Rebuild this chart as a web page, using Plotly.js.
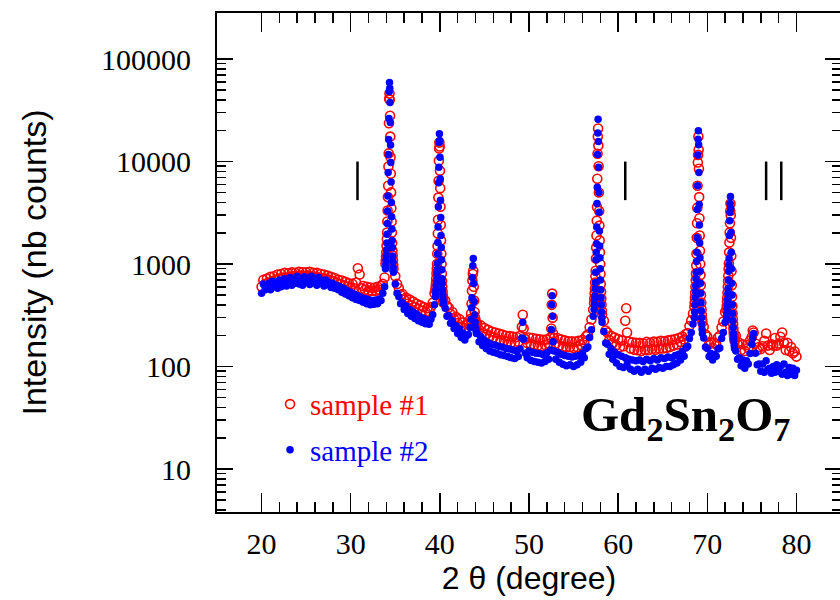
<!DOCTYPE html>
<html>
<head>
<meta charset="utf-8">
<script src="https://cdn.plot.ly/plotly-3.0.1.min.js"></script>
<style>
html,body{margin:0;padding:0;overflow:hidden;background:#fff;}
#chart{width:850px;height:600px;}
</style>
</head>
<body>
<div id="chart"></div>
<script>
// ---- Data (2θ in degrees, intensity in counts) ----
// Segment A: background 20 - 33.8
const thetaA = [20.0,20.2,20.4,20.6,20.8,21.0,21.2,21.4,21.6,21.8,
 22.0,22.2,22.4,22.6,22.8,23.0,23.2,23.4,23.6,23.8,
 24.0,24.2,24.4,24.6,24.8,25.0,25.2,25.4,25.6,25.8,
 26.0,26.2,26.4,26.6,26.8,27.0,27.2,27.4,27.6,27.8,
 28.0,28.2,28.4,28.6,28.8,29.0,29.2,29.4,29.6,29.8,
 30.0,30.2,30.4,30.6,30.8,31.0,31.2,31.4,31.6,31.8,
 32.0,32.2,32.4,32.6,32.8,33.0,33.2,33.4,33.6,33.8];
const sample1A = [600,700,640,720,660,750,680,760,700,790,
 720,800,730,820,740,810,750,830,760,820,
 760,840,770,830,760,830,770,840,760,820,
 750,820,740,800,730,790,720,770,700,750,
 680,730,660,700,640,690,620,670,600,650,
 590,640,580,660,910,790,580,610,560,600,
 550,590,545,585,550,600,560,610,640,740];
const sample2A = [520,640,560,600,650,560,680,600,640,580,
 700,600,650,720,610,680,740,620,700,650,
 760,640,700,620,750,680,720,630,760,660,
 700,620,740,650,690,610,700,630,660,590,
 650,580,620,560,600,530,580,510,550,490,
 530,470,510,450,490,440,475,425,460,410,
 450,400,440,405,445,410,455,440,520,600];

// Peak 1 (~34.35)
const thetaP1 = [33.90,33.93,33.96,33.99,34.02,34.05,34.08,34.11,34.14,34.17,34.20,34.23,34.26,34.29,34.32,34.35,34.38,34.41,34.44,34.47,34.50,34.53,34.56,34.59,34.62,34.65,34.68,34.71,34.74,34.77,34.80];
const sample1P1 = [1000,1080,1180,1300,1510,1750,2030,2600,3330,4500,5800,8950,12000,23600,41000,46000,40000,28000,17500,11000,7600,5000,3500,2600,2030,1600,1350,1210,1080,980,900];
const sample2P1 = [900,980,1080,1200,1380,1600,1950,2480,3300,4600,7800,11700,16400,26300,48200,59000,52000,37600,24000,14500,9800,6300,3980,2900,2200,1700,1450,1200,1050,920,830];

// Segment B: 35 - 39.4
const thetaB = [35.0,35.2,35.4,35.6,35.8,36.0,36.2,36.4,36.6,36.8,37.0,37.2,37.4,37.6,37.8,38.0,38.2,38.4,38.6,38.8,39.0,39.2,39.4];
const sample1B = [760,640,580,500,510,450,470,410,450,395,430,380,410,365,395,350,380,340,370,345,380,420,520];
const sample2B = [640,520,480,410,420,360,390,330,360,310,340,295,325,280,305,270,295,262,285,258,290,320,400];

// Peak 2 (~39.95)
const thetaP2 = [39.50,39.53,39.56,39.59,39.62,39.65,39.68,39.71,39.74,39.77,39.80,39.83,39.86,39.89,39.92,39.95,39.98,40.01,40.04,40.07,40.10,40.13,40.16,40.19,40.22,40.25,40.28,40.31,40.34,40.37,40.40];
const sample1P2 = [560,600,650,720,810,900,1000,1260,1500,1990,2700,4450,6500,10200,13400,15300,14000,8150,5500,3630,2400,1700,1260,1000,810,680,600,540,490,450,420];
const sample2P2 = [480,520,560,620,700,800,880,1010,1250,1620,2300,3630,6200,8800,15300,18700,16000,11000,6800,4200,2840,1900,1450,1100,880,720,645,560,500,450,410];

// Segment C: 40.6 - 43.4
const thetaC = [40.6,40.8,41.0,41.2,41.4,41.6,41.8,42.0,42.2,42.4,42.6,42.8,43.0,43.2,43.4];
const sample1C = [440,390,375,325,340,290,305,265,290,245,270,238,258,262,290];
const sample2C = [370,310,315,265,280,235,250,210,232,192,212,182,200,205,240];

// Peak 3 (~43.75)
const thetaP3 = [43.50,43.55,43.60,43.65,43.70,43.75,43.80,43.85,43.90,43.95,44.00,44.05,44.10];
const sample1P3 = [330,410,550,690,800,860,600,440,340,300,280,270,260];
const sample2P3 = [290,375,470,740,960,1130,645,430,320,270,240,225,210];

// Segment D: 44.2 - 57.2
const thetaD = [44.2,44.4,44.6,44.8,45.0,45.2,45.4,45.6,45.8,46.0,
 46.2,46.4,46.6,46.8,47.0,47.2,47.4,47.6,47.8,48.0,
 48.2,48.4,48.6,48.8,49.0,49.2,49.3,49.4,49.6,49.8,
 50.0,50.2,50.4,50.6,50.8,51.0,51.2,51.4,51.6,51.8,
 52.0,52.2,52.4,52.5,52.55,52.6,52.65,52.7,52.8,53.0,
 53.2,53.4,53.6,53.8,54.0,54.2,54.4,54.6,54.8,55.0,
 55.2,55.4,55.6,55.8,56.0,56.2,56.4,56.6,56.8,57.0,
 57.2];
const sample1D = [262,228,252,215,238,205,228,198,220,192,
 215,185,210,180,205,178,200,175,198,172,
 196,170,194,175,200,245,320,235,185,170,
 192,165,190,162,186,160,184,158,182,162,
 184,166,192,235,400,515,300,210,190,168,
 190,160,184,156,180,154,176,155,176,152,
 175,155,178,162,182,172,198,205,242,288,
 360];
const sample2D = [210,175,195,160,182,150,172,142,165,138,
 162,135,158,130,155,128,150,125,148,122,
 145,120,142,125,148,190,270,185,135,122,
 142,115,138,112,135,110,134,108,130,112,
 136,118,145,230,400,490,310,175,142,118,
 138,110,132,105,128,102,126,104,124,100,
 126,104,128,110,135,122,150,155,192,228,
 310];

// Peak 4 (~57.75)
const thetaP4 = [57.30,57.33,57.36,57.39,57.42,57.45,57.48,57.51,57.54,57.57,57.60,57.63,57.66,57.69,57.72,57.75,57.78,57.81,57.84,57.87,57.90,57.93,57.96,57.99,58.02,58.05,58.08,58.11,58.14,58.17,58.20];
const sample1P4 = [420,460,515,575,660,760,860,1130,1450,1900,2650,3600,6800,11900,17500,21000,14300,9000,5000,3300,2370,1700,1300,1000,800,640,540,460,400,350,320];
const sample2P4 = [360,400,450,490,575,660,830,1100,1300,1580,2300,3900,5600,11700,19000,25800,15700,8800,5000,3200,2100,1500,1150,900,700,560,470,400,340,300,270];

// Segment E: 58.4 - 68.4
const thetaE = [58.4,58.6,58.8,59.0,59.2,59.4,59.6,59.8,60.0,60.2,
 60.4,60.6,60.8,60.9,61.0,61.2,61.4,61.6,61.8,62.0,
 62.2,62.4,62.6,62.8,63.0,63.2,63.4,63.6,63.8,64.0,
 64.2,64.4,64.6,64.8,65.0,65.2,65.4,65.6,65.8,66.0,
 66.2,66.4,66.6,66.8,67.0,67.2,67.4,67.6,67.8,68.0,
 68.2,68.4];
const sample1E = [280,225,215,182,200,170,192,162,185,155,
 180,158,280,370,215,175,150,172,146,170,
 144,170,142,168,146,174,145,170,148,175,
 146,174,150,178,150,176,152,180,155,182,
 160,185,164,190,174,196,184,208,212,248,
 282,330];
const sample2E = [220,170,165,132,150,118,138,108,130,100,
 126,98,122,120,104,118,94,116,90,114,
 94,116,88,112,94,118,90,114,96,120,
 94,116,98,122,96,120,100,124,100,122,
 104,128,108,132,116,140,126,152,158,188,
 215,260];

// Peak 5 (~69.0)
const thetaP5 = [68.55,68.58,68.61,68.64,68.67,68.70,68.73,68.76,68.79,68.82,68.85,68.88,68.91,68.94,68.97,69.00,69.03,69.06,69.09,69.12,69.15,69.18,69.21,69.24,69.27,69.30,69.33,69.36,69.39,69.42,69.45];
const sample1P5 = [380,420,470,525,600,700,810,970,1260,1800,2500,3550,5800,9800,11600,17500,13000,8500,4500,2800,1900,1350,1000,780,620,500,420,360,320,290,270];
const sample2P5 = [300,340,400,470,540,615,720,830,1060,1300,1800,3400,5800,11600,16500,20000,14600,7800,3800,2400,1600,1150,850,650,520,420,350,300,260,230,210];

// Segment F: 69.6 - 72.0
const thetaF = [69.6,69.8,70.0,70.2,70.4,70.6,70.8,71.0,71.2,71.4,71.6,71.8,72.0];
const sample1F = [245,205,196,165,172,152,170,164,192,200,240,275,340];
const sample2F = [190,155,150,125,134,116,130,126,148,152,188,215,270];

// Peak 6 (~72.6)
const thetaP6 = [72.15,72.18,72.21,72.24,72.27,72.30,72.33,72.36,72.39,72.42,72.45,72.48,72.51,72.54,72.57,72.60,72.63,72.66,72.69,72.72,72.75,72.78,72.81,72.84,72.87,72.90,72.93,72.96,72.99,73.02,73.05];
const sample1P6 = [360,390,430,470,525,600,680,770,900,1010,1300,1620,2030,2500,3300,3900,3000,1800,1200,850,620,480,390,330,290,260,235,215,200,190,180];
const sample2P6 = [300,330,360,400,450,515,575,700,850,990,1130,1900,2650,3200,3900,4560,3500,2030,1300,900,650,500,400,330,280,240,210,190,175,160,150];

// Segment G: 73.2 - 80
const thetaG = [73.2,73.4,73.6,73.8,74.0,74.2,74.4,74.6,74.8,75.0,75.1,75.2,75.4,75.6,75.8,76.0,76.2,76.4,76.6,76.8,77.0,77.2,77.4,77.6,77.8,78.0,78.2,78.4,78.6,78.8,79.0,79.2,79.4,79.6,79.8,80.0];
const sample1G = [200,165,170,145,165,142,162,152,180,195,225,215,168,145,155,148,158,178,210,160,145,165,160,190,160,168,195,215,170,145,170,142,155,135,140,125];
const sample2G = [142,118,122,102,116,96,114,106,134,165,190,210,135,104,106,90,106,88,114,94,96,86,100,88,104,90,100,84,106,88,82,98,84,96,82,92];

// Reflection markers (vertical bars)
const braggPositions = [30.76, 60.8, 76.6, 78.3];
const braggBarRange = [4200, 10000];

// Axis tick labels
const xTickVals = [20, 30, 40, 50, 60, 70, 80];
const xTickLabels = ['20', '30', '40', '50', '60', '70', '80'];
const yTickVals = [10, 100, 1000, 10000, 100000];
const yTickLabels = ['10', '100', '1000', '10000', '100000'];

const seriesNames = ['sample #1', 'sample #2'];
const compoundLabel = 'Gd<sub>2</sub>Sn<sub>2</sub>O<sub>7</sub>';

// ---- assemble ----
const segs = [
  ['A', thetaA, sample1A, sample2A], ['P1', thetaP1, sample1P1, sample2P1],
  ['B', thetaB, sample1B, sample2B], ['P2', thetaP2, sample1P2, sample2P2],
  ['C', thetaC, sample1C, sample2C], ['P3', thetaP3, sample1P3, sample2P3],
  ['D', thetaD, sample1D, sample2D], ['P4', thetaP4, sample1P4, sample2P4],
  ['E', thetaE, sample1E, sample2E], ['P5', thetaP5, sample1P5, sample2P5],
  ['F', thetaF, sample1F, sample2F], ['P6', thetaP6, sample1P6, sample2P6],
  ['G', thetaG, sample1G, sample2G]
];
let twoTheta = [], s1 = [], s2 = [];
segs.forEach(([n, t, a, b]) => {
  if (t.length !== a.length || t.length !== b.length) throw new Error('length mismatch in ' + n + ': ' + t.length + ' ' + a.length + ' ' + b.length);
  twoTheta = twoTheta.concat(t); s1 = s1.concat(a); s2 = s2.concat(b);
});

const braggX = [], braggY = [];
braggPositions.forEach(p => { braggX.push(p, p, null); braggY.push(braggBarRange[0], braggBarRange[1], null); });

const xMinor = [];
for (let v = xTickVals[0]; v < xTickVals[xTickVals.length - 1]; v += 2) { if (v % 10 !== 0) xMinor.push(v); }
const yMinor = [];
[1, 10, 100, 1000, 10000].forEach(d => { for (let m = 2; m <= 9; m++) yMinor.push(m * d); });

const traces = [
  {
    x: twoTheta, y: s1, type: 'scatter', mode: 'markers',
    name: '<span style="color:#ff0000">' + seriesNames[0] + '</span>', legendgroup: 'g1',
    marker: { symbol: 'circle-open', size: 9, color: '#ff0000', line: { width: 1.6, color: '#ff0000' } },
    hoverinfo: 'skip'
  },
  {
    x: twoTheta, y: s2, type: 'scatter', mode: 'markers',
    name: '<span style="color:#0000ff">' + seriesNames[1] + '</span>', legendgroup: 'g2',
    marker: { symbol: 'circle', size: 7.5, color: '#0000ff' },
    hoverinfo: 'skip'
  },
  {
    x: braggX, y: braggY, type: 'scatter', mode: 'lines',
    line: { color: '#000000', width: 2.5 }, showlegend: false, hoverinfo: 'skip'
  }
];

const tickFont = { family: 'Liberation Serif, Times New Roman, serif', size: 30, color: '#000' };

const layout = {
  width: 850, height: 600,
  margin: { l: 217, r: 9, t: 13, b: 88 },
  paper_bgcolor: '#fff', plot_bgcolor: '#fff',
  showlegend: true,
  legend: {
    x: 0.085, y: 0.267, xanchor: 'left', yanchor: 'top',
    font: { family: 'Liberation Serif, Times New Roman, serif', size: 29, color: '#000' },
    bgcolor: 'rgba(0,0,0,0)', tracegroupgap: 5, itemsizing: 'trace'
  },
  xaxis: {
    range: [15, 85], showgrid: false, zeroline: false,
    showline: true, linecolor: '#000', linewidth: 2, mirror: 'allticks',
    ticks: 'inside', ticklen: 19, tickwidth: 1.5, tickcolor: '#000',
    tickmode: 'array', tickvals: xTickVals, ticktext: xTickLabels,
    tickfont: tickFont, ticklabelstandoff: 4,
    minor: { tickmode: 'array', tickvals: xMinor, ticks: 'inside', ticklen: 10, tickwidth: 1.5, tickcolor: '#000' },
    title: { text: '2 θ (degree)', font: { family: 'Liberation Sans, Arial, sans-serif', size: 32, color: '#000' }, standoff: 6 }
  },
  yaxis: {
    type: 'log', range: [0.581, 5.449], showgrid: false, zeroline: false,
    showline: true, linecolor: '#000', linewidth: 2, mirror: 'allticks',
    ticks: 'inside', ticklen: 16, tickwidth: 1.5, tickcolor: '#000',
    tickmode: 'array', tickvals: yTickVals, ticktext: yTickLabels,
    tickfont: tickFont, ticklabelstandoff: 18,
    minor: { tickmode: 'array', tickvals: yMinor, ticks: 'inside', ticklen: 9, tickwidth: 1.5, tickcolor: '#000' },
    title: { text: 'Intensity (nb counts)', font: { family: 'Liberation Sans, Arial, sans-serif', size: 34, color: '#000' }, standoff: 44 }
  },
  annotations: [{
    text: '<b>' + compoundLabel + '</b>', xref: 'paper', yref: 'paper',
    x: 0.75, y: 0.19, xanchor: 'center', yanchor: 'middle', showarrow: false,
    font: { family: 'Liberation Serif, Times New Roman, serif', size: 49, color: '#000' }
  }]
};

Plotly.newPlot('chart', traces, layout, { staticPlot: true, displayModeBar: false });
</script>
</body>
</html>
